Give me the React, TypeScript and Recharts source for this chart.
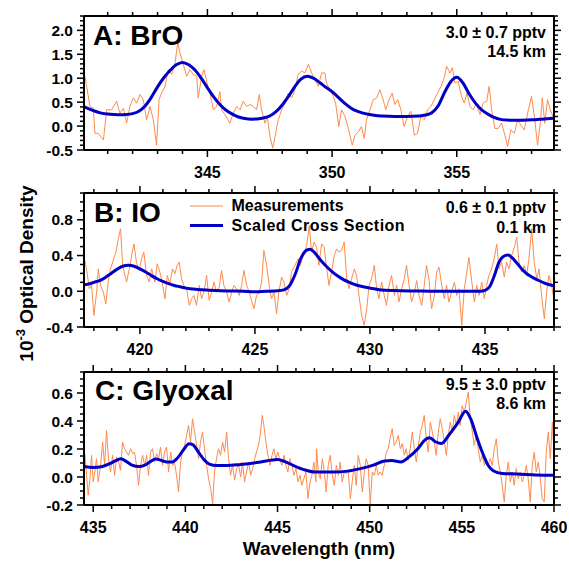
import React from 'react';
import { LineChart, Line, XAxis, YAxis } from 'recharts';

// ---------- Panel A: BrO ----------
const broMeasured: [number, number][] = [
  [340.09, 1.04], [340.29, 0.41], [340.42, 0.38], [340.49, -0.15], [340.62, -0.15], [340.83, -0.29], [340.96, 0.34], [341.16, 0.34],
  [341.36, 0.52], [341.49, 0.27], [341.63, 0.37], [341.76, 0.06], [341.89, 0.41], [342.03, 0.59], [342.16, 0.48], [342.3, 0.66],
  [342.43, 0.55], [342.56, 0.13], [342.7, 0.41], [342.83, 0.13], [342.96, -0.4], [343.06, 0.55], [343.16, 0.69], [343.3, 0.83],
  [343.43, 1.18], [343.57, 1.08], [343.7, 1.32], [343.81, 1.74], [343.9, 1.53], [344.03, 1.29], [344.17, 1.04], [344.3, 1.18],
  [344.43, 1.08], [344.57, 1.04], [344.63, 0.59], [344.77, 1.04], [344.86, 1.18], [344.97, 0.93], [345.1, 0.69], [345.24, 0.34],
  [345.37, 0.41], [345.5, 0.72], [345.57, 0.34], [345.7, 0.24], [345.9, 0.06], [346.04, 0.27], [346.17, 0.41], [346.31, 0.34],
  [346.44, 0.52], [346.57, 0.41], [346.71, 0.45], [346.84, 0.41], [346.97, 0.34], [347.08, 0.66], [347.17, 0.34], [347.31, 0.06],
  [347.4, 0.2], [347.51, -0.22], [347.62, -0.46], [347.71, -0.22], [347.84, 0.13], [347.98, 0.34], [348.11, 0.48], [348.24, 0.69],
  [348.38, 0.59], [348.51, 0.76], [348.64, 1.08], [348.78, 1.15], [348.91, 1.11], [349.05, 1.29], [349.18, 1.11], [349.31, 0.97],
  [349.45, 0.83], [349.58, 1.11], [349.71, 1.11], [349.78, 0.9], [349.91, 0.76], [350.05, 0.62], [350.14, 0.48], [350.27, -0.01],
  [350.38, 0.34], [350.52, 0.2], [350.65, -0.05], [350.81, -0.4], [350.92, -0.19], [351.05, -0.12], [351.18, -0.01], [351.29, -0.26],
  [351.38, 0.13], [351.52, 0.34], [351.65, 0.55], [351.79, 0.59], [351.92, 0.76], [352.05, 0.55], [352.15, 0.34], [352.28, 0.55],
  [352.41, 0.69], [352.52, 0.45], [352.63, 0.55], [352.76, 0.34], [352.89, -0.01], [353.03, 0.2], [353.16, 0.31], [353.3, -0.19],
  [353.43, -0.15], [353.56, 0.2], [353.7, 0.13], [353.83, 0.34], [353.96, 0.41], [354.1, 0.55], [354.23, 0.69], [354.37, 0.83],
  [354.5, 1.01], [354.59, 1.25], [354.73, 1.11], [354.82, 1.22], [354.93, 0.9], [355.06, 0.93], [355.19, 0.62], [355.3, 0.48],
  [355.41, 0.69], [355.53, 0.41], [355.66, 0.34], [355.79, 0.48], [355.93, 0.24], [356.06, 0.48], [356.2, 0.52], [356.3, 0.83],
  [356.4, 0.34], [356.53, -0.05], [356.66, -0.05], [356.8, 0.06], [356.93, -0.19], [357.04, -0.43], [357.17, -0.08], [357.31, -0.15],
  [357.44, 0.13], [357.57, 0.02], [357.71, -0.08], [357.87, 0.34], [358.0, 0.62], [358.13, 0.13], [358.24, -0.4], [358.35, 0.06],
  [358.43, 0.59], [358.53, 0.06], [358.64, 0.55], [358.75, 0.34], [358.86, 0.2],
];
const broFit: [number, number][] = [
  [340.0, 0.42], [340.25, 0.36], [340.5, 0.31], [340.75, 0.27], [341.0, 0.25], [341.25, 0.24], [341.5, 0.235], [341.75, 0.24],
  [342.0, 0.26], [342.25, 0.31], [342.5, 0.42], [342.75, 0.6], [343.0, 0.82], [343.25, 1.01], [343.5, 1.16], [343.75, 1.28],
  [344.0, 1.33], [344.25, 1.28], [344.5, 1.17], [344.75, 1.0], [345.0, 0.8], [345.25, 0.61], [345.5, 0.45], [345.75, 0.33],
  [346.0, 0.25], [346.25, 0.19], [346.5, 0.16], [346.75, 0.145], [347.0, 0.15], [347.25, 0.17], [347.5, 0.21], [347.75, 0.3],
  [348.0, 0.44], [348.25, 0.62], [348.5, 0.82], [348.75, 0.98], [349.0, 1.04], [349.25, 1.0], [349.5, 0.91], [349.75, 0.81],
  [350.0, 0.72], [350.25, 0.6], [350.5, 0.48], [350.75, 0.38], [351.0, 0.31], [351.25, 0.27], [351.5, 0.24], [351.75, 0.22],
  [352.0, 0.21], [352.5, 0.2], [353.0, 0.2], [353.5, 0.21], [353.75, 0.23], [354.0, 0.28], [354.25, 0.42], [354.5, 0.69],
  [354.75, 0.92], [355.0, 1.02], [355.25, 0.9], [355.5, 0.67], [355.75, 0.48], [356.0, 0.34], [356.25, 0.25], [356.5, 0.18],
  [356.75, 0.14], [357.0, 0.125], [357.5, 0.12], [358.0, 0.13], [358.5, 0.15], [359.0, 0.17],
];
const broXMajor = [345, 350, 355];
const broYMajor = [-0.5, 0.0, 0.5, 1.0, 1.5, 2.0];

// ---------- Panel B: IO ----------
const ioMeasured: [number, number][] = [
  [417.61, 0.345], [417.71, 0.196], [417.8, 0.028], [417.9, 0.066], [418.0, -0.27], [418.12, -0.01], [418.19, 0.25], [418.29, 0.066],
  [418.41, -0.01], [418.52, -0.14], [418.62, 0.103], [418.72, 0.25], [418.84, 0.345], [418.96, 0.44], [419.06, 0.587], [419.16, 0.7],
  [419.25, 0.29], [419.35, 0.177], [419.42, 0.103], [419.54, 0.25], [419.64, 0.4], [419.74, 0.53], [419.85, 0.326], [419.97, 0.233],
  [420.07, 0.364], [420.17, 0.438], [420.29, 0.177], [420.41, 0.103], [420.51, 0.25], [420.65, 0.103], [420.75, 0.308], [420.87, 0.215],
  [420.99, 0.066], [421.09, -0.083], [421.19, 0.177], [421.3, 0.084], [421.42, 0.25], [421.52, 0.196], [421.62, 0.29], [421.71, 0.326],
  [421.81, 0.14], [421.91, 0.066], [422.03, 0.028], [422.15, -0.158], [422.25, -0.083], [422.35, -0.046], [422.46, -0.158], [422.58, 0.066],
  [422.68, -0.083], [422.78, -0.01], [422.9, 0.177], [423.01, -0.1], [423.12, -0.01], [423.22, 0.103], [423.33, -0.01], [423.45, 0.047],
  [423.55, 0.233], [423.65, 0.066], [423.77, -0.01], [423.88, -0.12], [423.99, -0.01], [424.09, 0.066], [424.2, 0.028], [424.32, -0.046],
  [424.42, 0.066], [424.52, 0.233], [424.64, 0.066], [424.75, -0.01], [424.85, -0.1], [424.96, -0.195], [425.07, -0.046], [425.19, -0.01],
  [425.29, 0.103], [425.39, 0.457], [425.51, 0.29], [425.62, 0.066], [425.72, -0.083], [425.83, -0.01], [425.94, -0.25], [426.04, -0.01],
  [426.16, 0.159], [426.26, 0.103], [426.38, -0.046], [426.49, 0.028], [426.59, 0.215], [426.74, 0.29], [426.88, 0.364], [426.98, 0.29],
  [427.1, 0.4], [427.25, 0.513], [427.36, 0.736], [427.46, 0.438], [427.57, 0.55], [427.68, 0.494], [427.78, 0.29], [427.9, 0.53],
  [428.01, 0.494], [428.12, 0.25], [428.22, 0.066], [428.33, 0.215], [428.45, 0.4], [428.55, 0.475], [428.65, 0.438], [428.77, 0.457],
  [428.88, 0.55], [428.99, 0.14], [429.09, 0.028], [429.2, 0.14], [429.32, 0.25], [429.42, 0.177], [429.52, -0.046], [429.64, -0.27],
  [429.75, -0.38], [429.86, -0.195], [429.96, 0.066], [430.07, 0.14], [430.19, 0.29], [430.29, 0.028], [430.39, -0.083], [430.51, 0.103],
  [430.62, -0.046], [430.72, -0.158], [430.83, 0.066], [430.94, 0.177], [431.06, -0.046], [431.16, 0.066], [431.26, -0.12], [431.38, 0.028],
  [431.49, 0.14], [431.59, 0.29], [431.7, 0.066], [431.81, -0.12], [431.93, -0.01], [432.03, 0.12], [432.13, -0.046], [432.25, -0.158],
  [432.36, 0.066], [432.46, 0.29], [432.57, 0.12], [432.68, -0.195], [432.8, -0.046], [432.9, 0.215], [433.0, 0.27], [433.12, 0.066],
  [433.23, -0.083], [433.33, 0.066], [433.43, -0.12], [433.55, -0.01], [433.67, 0.103], [433.77, -0.046], [433.87, 0.028], [433.99, -0.38],
  [434.1, 0.028], [434.2, 0.196], [434.3, 0.38], [434.42, 0.12], [434.54, -0.12], [434.64, 0.066], [434.74, -0.046], [434.86, 0.103],
  [434.97, -0.083], [435.07, 0.066], [435.17, 0.177], [435.29, 0.25], [435.4, 0.364], [435.51, 0.53], [435.61, 0.25], [435.72, 0.326],
  [435.84, 0.159], [435.94, 0.326], [436.04, 0.25], [436.16, 0.4], [436.28, 0.494], [436.38, 0.606], [436.48, 0.326], [436.59, 0.215],
  [436.71, 0.29], [436.81, 0.177], [436.91, 0.364], [437.03, 0.7], [437.14, 0.326], [437.25, 0.14], [437.35, 0.25], [437.46, -0.046],
  [437.58, -0.31], [437.68, -0.01], [437.78, 0.177], [437.9, 0.066], [437.99, -0.083],
];
const ioFit: [number, number][] = [
  [417.5, 0.07], [417.75, 0.08], [418.0, 0.1], [418.25, 0.12], [418.5, 0.155], [418.75, 0.2], [419.0, 0.245], [419.25, 0.28],
  [419.5, 0.29], [419.75, 0.28], [420.0, 0.25], [420.25, 0.215], [420.5, 0.175], [420.75, 0.14], [421.0, 0.11], [421.25, 0.085],
  [421.5, 0.065], [421.75, 0.05], [422.0, 0.035], [422.5, 0.02], [423.0, 0.012], [423.5, 0.006], [424.0, 0.003], [424.5, 0.0],
  [425.0, -0.005], [425.5, 0.0], [426.0, 0.005], [426.25, 0.015], [426.5, 0.06], [426.75, 0.19], [427.0, 0.37], [427.25, 0.46],
  [427.4, 0.47], [427.6, 0.43], [427.85, 0.35], [428.1, 0.28], [428.35, 0.22], [428.6, 0.17], [428.85, 0.13], [429.1, 0.1],
  [429.4, 0.07], [429.7, 0.05], [430.0, 0.035], [430.5, 0.015], [431.0, 0.008], [432.0, 0.003], [433.0, 0.0], [434.0, 0.0],
  [434.8, 0.0], [435.0, 0.01], [435.2, 0.05], [435.4, 0.17], [435.6, 0.32], [435.8, 0.39], [436.0, 0.405], [436.2, 0.37],
  [436.4, 0.31], [436.6, 0.25], [436.8, 0.2], [437.0, 0.165], [437.3, 0.125], [437.6, 0.09], [438.0, 0.06],
];
const ioXMajor = [420, 425, 430, 435];
const ioYMajor = [-0.4, 0.0, 0.4, 0.8];

// ---------- Panel C: Glyoxal ----------
const glyMeasured: [number, number][] = [
  [434.55, 0.166], [434.64, 0.012], [434.73, -0.13], [434.82, -0.012], [434.91, 0.155], [435.0, -0.035], [435.09, 0.036], [435.18, 0.131],
  [435.27, -0.035], [435.4, 0.083], [435.51, 0.25], [435.62, 0.083], [435.72, 0.333], [435.83, 0.131], [435.94, 0.036], [436.05, 0.155],
  [436.16, 0.012], [436.27, 0.143], [436.38, 0.107], [436.48, 0.048], [436.59, 0.25], [436.7, 0.202], [436.81, 0.178], [436.92, 0.155],
  [437.03, 0.202], [437.14, 0.166], [437.24, 0.178], [437.35, 0.083], [437.46, -0.059], [437.57, 0.083], [437.68, 0.155], [437.79, 0.083],
  [437.9, 0.155], [438.0, 0.012], [438.11, 0.178], [438.22, 0.202], [438.33, 0.107], [438.44, 0.166], [438.55, 0.131], [438.65, 0.214],
  [438.76, 0.083], [438.87, 0.178], [438.98, 0.214], [439.09, 0.036], [439.2, 0.178], [439.31, 0.083], [439.41, 0.107], [439.52, 0.012],
  [439.63, -0.107], [439.74, 0.107], [439.85, 0.178], [439.96, 0.226], [440.07, 0.297], [440.17, 0.368], [440.28, 0.25], [440.39, 0.416],
  [440.5, 0.321], [440.61, 0.226], [440.72, 0.131], [440.82, 0.25], [440.93, 0.321], [441.04, 0.202], [441.15, 0.083], [441.26, -0.012],
  [441.37, -0.083], [441.48, -0.19], [441.58, 0.036], [441.69, 0.131], [441.8, 0.202], [441.91, 0.155], [442.02, 0.25], [442.13, 0.178],
  [442.24, 0.321], [442.34, 0.131], [442.45, 0.012], [442.56, 0.083], [442.67, -0.023], [442.78, 0.06], [442.89, 0.083], [443.0, 0.0],
  [443.1, 0.107], [443.21, -0.035], [443.32, 0.036], [443.43, 0.107], [443.54, 0.012], [443.65, 0.06], [443.76, 0.131], [443.86, 0.178],
  [443.97, 0.226], [444.08, 0.321], [444.17, 0.44], [444.26, 0.368], [444.37, 0.25], [444.48, 0.155], [444.59, 0.083], [444.7, 0.155],
  [444.8, 0.202], [444.91, 0.131], [445.02, 0.178], [445.13, 0.119], [445.24, 0.083], [445.35, 0.155], [445.46, 0.083], [445.56, 0.036],
  [445.67, 0.131], [445.78, 0.083], [445.89, 0.012], [446.0, 0.06], [446.11, -0.035], [446.22, 0.012], [446.32, -0.059], [446.43, -0.012],
  [446.54, 0.036], [446.65, -0.154], [446.76, -0.035], [446.87, 0.012], [446.97, 0.107], [447.08, -0.035], [447.12, 0.202], [447.21, 0.036],
  [447.32, -0.012], [447.43, 0.131], [447.54, 0.036], [447.64, -0.107], [447.75, 0.083], [447.86, 0.155], [447.97, 0.012], [448.08, -0.059],
  [448.19, 0.083], [448.3, 0.012], [448.4, 0.107], [448.51, -0.035], [448.62, 0.036], [448.73, 0.024], [448.84, 0.036], [448.95, -0.154],
  [449.05, -0.035], [449.16, 0.083], [449.27, -0.059], [449.38, 0.155], [449.49, 0.083], [449.6, -0.107], [449.71, 0.036], [449.81, 0.131],
  [449.92, 0.083], [450.03, -0.2], [450.14, 0.036], [450.25, 0.012], [450.36, 0.083], [450.47, 0.012], [450.57, 0.036], [450.68, 0.012],
  [450.79, 0.083], [450.9, 0.178], [451.01, 0.202], [451.12, 0.285], [451.22, 0.345], [451.33, 0.226], [451.44, 0.25], [451.55, 0.297],
  [451.66, 0.202], [451.77, 0.238], [451.88, 0.155], [451.98, 0.202], [452.09, 0.119], [452.2, 0.202], [452.31, 0.321], [452.42, 0.202],
  [452.53, 0.107], [452.64, 0.226], [452.75, 0.321], [452.85, 0.368], [452.96, 0.44], [453.07, 0.273], [453.18, 0.178], [453.29, 0.392],
  [453.4, 0.321], [453.5, 0.25], [453.61, 0.155], [453.72, 0.321], [453.83, 0.416], [453.94, 0.345], [454.05, 0.25], [454.16, 0.155],
  [454.26, 0.297], [454.37, 0.392], [454.48, 0.321], [454.59, 0.44], [454.7, 0.368], [454.81, 0.463], [454.91, 0.368], [455.02, 0.51],
  [455.13, 0.463], [455.24, 0.534], [455.35, 0.606], [455.46, 0.416], [455.57, 0.321], [455.67, 0.226], [455.78, 0.297], [455.89, 0.202],
  [456.0, 0.107], [456.11, 0.155], [456.22, 0.083], [456.33, 0.131], [456.43, 0.083], [456.54, 0.131], [456.65, 0.083], [456.76, 0.202],
  [456.87, 0.273], [456.98, 0.107], [457.09, 0.036], [457.19, -0.059], [457.3, -0.178], [457.41, 0.012], [457.52, 0.107], [457.63, -0.035],
  [457.74, 0.036], [457.84, -0.059], [457.95, 0.06], [458.06, -0.012], [458.17, 0.036], [458.28, -0.035], [458.39, 0.012], [458.5, 0.083],
  [458.6, -0.012], [458.71, -0.178], [458.82, 0.083], [458.93, 0.178], [459.04, 0.036], [459.15, 0.107], [459.26, -0.012], [459.36, -0.154],
  [459.47, -0.178], [459.58, 0.178], [459.69, 0.321], [459.8, 0.131], [459.91, 0.392], [459.98, 0.226],
];
const glyFit: [number, number][] = [
  [434.5, 0.075], [435.0, 0.068], [435.5, 0.075], [435.9, 0.095], [436.2, 0.115], [436.5, 0.13], [436.8, 0.11], [437.1, 0.085],
  [437.5, 0.075], [437.8, 0.085], [438.1, 0.11], [438.4, 0.128], [438.7, 0.118], [439.0, 0.108], [439.3, 0.108], [439.6, 0.14],
  [439.9, 0.195], [440.2, 0.238], [440.4, 0.232], [440.7, 0.18], [441.0, 0.125], [441.3, 0.092], [441.7, 0.082], [442.2, 0.082],
  [443.0, 0.09], [444.0, 0.105], [445.0, 0.125], [445.4, 0.11], [445.9, 0.08], [446.5, 0.05], [447.0, 0.035], [448.0, 0.035],
  [448.8, 0.042], [449.5, 0.06], [450.2, 0.085], [450.8, 0.115], [451.2, 0.118], [451.7, 0.108], [452.1, 0.14], [452.6, 0.2],
  [453.0, 0.265], [453.25, 0.28], [453.6, 0.25], [453.9, 0.24], [454.3, 0.3], [454.8, 0.39], [455.2, 0.47], [455.5, 0.41],
  [455.8, 0.29], [456.1, 0.18], [456.4, 0.09], [456.7, 0.045], [457.2, 0.025], [458.0, 0.022], [459.0, 0.015], [460.0, 0.012],
];
const glyXMajor = [435, 440, 445, 450, 455, 460];
const glyYMajor = [-0.2, 0.0, 0.2, 0.4, 0.6];

// ---------- Text ----------
const panelTitles = ['A: BrO', 'B: IO', 'C: Glyoxal'];
const panelNotes = [
  ['3.0 \u00b1 0.7 pptv', '14.5 km'],
  ['0.6 \u00b1 0.1 pptv', '0.1 km'],
  ['9.5 \u00b1 3.0 pptv', '8.6 km'],
];
const legendLabels = ['Measurements', 'Scaled Cross Section'];
const xAxisTitle = 'Wavelength (nm)';
const yAxisTitle = ['10', '-3', ' Optical Density'];

// ---------- Rendering ----------
const FONT = '"Liberation Sans", Arial, Helvetica, sans-serif';
const ORANGE = '#ff8a4a';
const BLUE = '#0000c8';
const W = 569;
const H = 561;
const LEFT = 84;
const RIGHT = 554;

const range = (a: number, b: number, step: number) => {
  const out: number[] = [];
  const n = Math.round((b - a) / step);
  for (let i = 0; i <= n; i++) out.push(Math.round((a + i * step) * 1000) / 1000);
  return out;
};

const isIn = (arr: number[], v: number) => arr.some((m) => Math.abs(m - v) < 1e-6);

type Side = 'bottom' | 'top' | 'left' | 'right';

const makeTick = (side: Side, majors: number[], fmt: (v: number) => string, showLabel: boolean) =>
  (props: any) => {
    const { x, y, payload } = props;
    const v = payload.value as number;
    const major = isIn(majors, v);
    const len = major ? 7 : 4;
    let line;
    let label = null;
    if (side === 'bottom') {
      line = <line x1={x} y1={y} x2={x} y2={y + len} stroke="#000" strokeWidth={1.5} />;
      if (major && showLabel)
        label = (
          <text x={x} y={y + 28} textAnchor="middle" fontFamily={FONT} fontWeight="bold" fontSize={16} fill="#000">
            {fmt(v)}
          </text>
        );
    } else if (side === 'top') {
      line = <line x1={x} y1={y} x2={x} y2={y - len} stroke="#000" strokeWidth={1.5} />;
    } else if (side === 'left') {
      line = <line x1={x} y1={y} x2={x - len} y2={y} stroke="#000" strokeWidth={1.5} />;
      if (major && showLabel)
        label = (
          <text x={x - 11} y={y + 5.5} textAnchor="end" fontFamily={FONT} fontWeight="bold" fontSize={15.5} fill="#000">
            {fmt(v)}
          </text>
        );
    } else {
      line = <line x1={x} y1={y} x2={x + len} y2={y} stroke="#000" strokeWidth={1.5} />;
    }
    return (
      <g>
        {line}
        {label}
      </g>
    );
  };

type PanelProps = {
  measured: [number, number][];
  fit: [number, number][];
  xDomain: [number, number];
  yDomain: [number, number];
  xMajor: number[];
  yMajor: number[];
  xMinorStep: number;
  yMinorStep: number;
  top: number;
  bottom: number;
};

const axisLine = { stroke: '#000', strokeWidth: 2 };
const fmtX = (v: number) => String(Math.round(v));
const fmtY = (v: number) => v.toFixed(1);

function Panel(p: PanelProps) {
  const measData = p.measured.map(([x, y]) => ({ x, y }));
  const fitData = p.fit.map(([x, y]) => ({ x, y }));
  const xTicks = range(Math.ceil(p.xDomain[0]), Math.floor(p.xDomain[1]), p.xMinorStep);
  const yTicks = range(p.yDomain[0], p.yDomain[1], p.yMinorStep);
  const common = { tickSize: 0, tickMargin: 0, tickLine: false, axisLine, interval: 0 as const, allowDataOverflow: true };
  return (
    <div style={{ position: 'absolute', left: 0, top: 0 }}>
      <LineChart
        width={W}
        height={H}
        margin={{ top: p.top - 1, bottom: H - p.bottom - 1, left: LEFT - 1, right: W - RIGHT - 1 }}
      >
        <XAxis xAxisId="b" type="number" dataKey="x" orientation="bottom" height={1} domain={p.xDomain} ticks={xTicks}
          tick={makeTick('bottom', p.xMajor, fmtX, true)} {...common} />
        <XAxis xAxisId="t" type="number" dataKey="x" orientation="top" height={1} domain={p.xDomain} ticks={xTicks}
          tick={makeTick('top', p.xMajor, fmtX, false)} {...common} />
        <YAxis yAxisId="l" type="number" orientation="left" width={1} domain={p.yDomain} ticks={yTicks}
          tick={makeTick('left', p.yMajor, fmtY, true)} {...common} />
        <YAxis yAxisId="r" type="number" orientation="right" width={1} domain={p.yDomain} ticks={yTicks}
          tick={makeTick('right', p.yMajor, fmtY, false)} {...common} />
        <Line xAxisId="b" yAxisId="l" data={measData} dataKey="y" type="linear" stroke={ORANGE} strokeWidth={1}
          dot={false} activeDot={false} isAnimationActive={false} />
        <Line xAxisId="b" yAxisId="l" data={fitData} dataKey="y" type="monotone" stroke={BLUE} strokeWidth={3}
          dot={false} activeDot={false} isAnimationActive={false} />
      </LineChart>
    </div>
  );
}

function Annotations() {
  const titleY = [45, 221.7, 400];
  const titleX = [93, 94, 95];
  const noteY = [[38.3, 57.3], [213.3, 233.3], [390, 409.3]];
  const t = { fontFamily: FONT, fontWeight: 'bold' as const, fill: '#000' };
  return (
    <svg width={W} height={H} style={{ position: 'absolute', left: 0, top: 0, pointerEvents: 'none' }}>
      {panelTitles.map((s, i) => (
        <text key={s} x={titleX[i]} y={titleY[i]} fontSize={28} {...t}>{s}</text>
      ))}
      {panelNotes.map((lines, i) =>
        lines.map((s, j) => (
          <text key={s} x={546} y={noteY[i][j]} fontSize={16} textAnchor="end" {...t}>{s}</text>
        ))
      )}
      <line x1={190} y1={206} x2={223} y2={206} stroke={ORANGE} strokeWidth={1.2} />
      <text x={231.5} y={211} fontSize={16} {...t}>{legendLabels[0]}</text>
      <line x1={190} y1={225.5} x2={223} y2={225.5} stroke={BLUE} strokeWidth={3} />
      <text x={231.5} y={231} fontSize={16} letterSpacing={0.5} {...t}>{legendLabels[1]}</text>
      <text x={319} y={555} fontSize={19} textAnchor="middle" {...t}>{xAxisTitle}</text>
      <text x={33} y={273.5} fontSize={19} textAnchor="middle" transform="rotate(-90 33 273.5)" {...t}>
        <tspan>{yAxisTitle[0]}</tspan>
        <tspan fontSize={13} dy={-8}>{yAxisTitle[1]}</tspan>
        <tspan dy={8}>{yAxisTitle[2]}</tspan>
      </text>
    </svg>
  );
}

export default function App() {
  return (
    <div style={{ position: 'absolute', left: 0, top: 0, width: W, height: H, background: '#fff', overflow: 'hidden' }}>
      <Panel measured={broMeasured} fit={broFit} xDomain={[340.05, 358.9]} yDomain={[-0.5, 2.3]}
        xMajor={broXMajor} yMajor={broYMajor} xMinorStep={1} yMinorStep={0.1} top={16} bottom={150} />
      <Panel measured={ioMeasured} fit={ioFit} xDomain={[417.57, 438]} yDomain={[-0.4, 1.1]}
        xMajor={ioXMajor} yMajor={ioYMajor} xMinorStep={1} yMinorStep={0.1} top={193} bottom={327} />
      <Panel measured={glyMeasured} fit={glyFit} xDomain={[434.5, 460]} yDomain={[-0.2, 0.75]}
        xMajor={glyXMajor} yMajor={glyYMajor} xMinorStep={1} yMinorStep={0.05} top={372} bottom={505} />
      <Annotations />
    </div>
  );
}
